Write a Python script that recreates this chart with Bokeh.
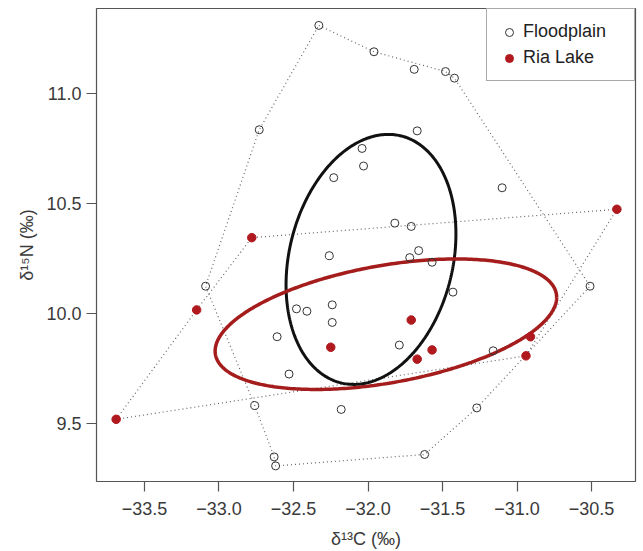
import numpy as np
from bokeh.plotting import figure
from bokeh.models import FixedTicker, CustomJSTickFormatter, Legend, LegendItem
from bokeh.embed import file_html
from bokeh.resources import INLINE

# ---------------- data ----------------
floodplain_d13C = [-32.33, -31.96, -31.69, -31.48, -31.42, -32.73, -31.67, -32.04,
                   -32.03, -32.23, -31.10, -31.82, -31.71, -32.26, -31.66, -31.72,
                   -31.57, -33.09, -31.43, -30.51, -32.48, -32.41, -32.24, -32.24,
                   -32.61, -31.79, -31.16, -32.53, -32.76, -32.18, -31.27, -32.63,
                   -32.62, -31.62]
floodplain_d15N = [11.31, 11.19, 11.11, 11.10, 11.07, 10.835, 10.83, 10.75,
                   10.67, 10.617, 10.571, 10.41, 10.395, 10.262, 10.285, 10.253,
                   10.232, 10.123, 10.096, 10.123, 10.02, 10.009, 10.038, 9.958,
                   9.893, 9.855, 9.829, 9.723, 9.58, 9.562, 9.569, 9.346,
                   9.305, 9.357]
# order of the points that form the dotted outline (hull) of each group
floodplain_hull = [0, 1, 3, 4, 19, 30, 33, 32, 31, 28, 17, 5, 0]

ria_d13C = [-32.78, -30.33, -33.15, -33.69, -31.71, -32.25, -31.57, -31.67, -30.91, -30.94]
ria_d15N = [10.344, 10.473, 10.015, 9.517, 9.969, 9.845, 9.833, 9.791, 9.893, 9.806]
ria_hull = [3, 2, 0, 1, 9, 3]

# standard ellipses: centre and covariance terms
groups = ["Floodplain", "Ria Lake"]
ell_cx = [-31.98, -31.88]
ell_cy = [10.245, 9.95]
ell_vx = [0.3249, 1.313]
ell_vy = [0.3238, 0.0882]
ell_cxy = [0.066, 0.14]

x_ticks = [-33.5, -33.0, -32.5, -32.0, -31.5, -31.0, -30.5]
y_ticks = [9.5, 10.0, 10.5, 11.0]

# ---------------- styling ----------------
FONT = "Liberation Sans"
AXC = "#555555"
TXT = "#3a3a3a"
RED = "#B0191E"
RED_ELL = "#A51C1C"

p = figure(width=643, height=551,
           x_range=(-33.822, -30.205), y_range=(9.234, 11.387),
           output_backend="svg", toolbar_location=None,
           min_border_left=96, min_border_right=8, min_border_top=8,
           min_border_bottom=60)
p.background_fill_color = "white"
p.border_fill_color = "white"
p.outline_line_color = AXC
p.outline_line_width = 1.2
p.grid.visible = False

fmt = CustomJSTickFormatter(code="return tick.toFixed(1).replace('-', '\\u2212');")
for ax, ticks in ((p.xaxis, x_ticks), (p.yaxis, y_ticks)):
    ax.ticker = FixedTicker(ticks=ticks)
    ax.formatter = fmt
    ax.axis_line_color = None
    ax.major_tick_out = 10
    ax.major_tick_in = 0
    ax.major_tick_line_color = AXC
    ax.major_tick_line_width = 1.2
    ax.minor_tick_line_color = None
    ax.major_label_text_font = FONT
    ax.major_label_text_font_size = "18px"
    ax.major_label_text_color = TXT
    ax.axis_label_text_font = FONT
    ax.axis_label_text_font_size = "18px"
    ax.axis_label_text_font_style = "normal"
    ax.axis_label_text_color = TXT

p.xaxis.axis_label = "δ¹³C (‰)"
p.yaxis.axis_label = "δ¹⁵N (‰)"
p.xaxis.major_label_standoff = 10
p.yaxis.major_label_standoff = 5
p.xaxis.axis_label_standoff = 11
p.yaxis.axis_label_standoff = 6

# hull outlines (dotted)
p.line([floodplain_d13C[i] for i in floodplain_hull],
       [floodplain_d15N[i] for i in floodplain_hull],
       line_color="#666666", line_width=1.2, line_dash="1 3")
p.line([ria_d13C[i] for i in ria_hull],
       [ria_d15N[i] for i in ria_hull],
       line_color="#666666", line_width=1.2, line_dash="1 3")

# ellipses
t = np.linspace(0, 2 * np.pi, 361)
ell_colors = ["#111111", RED_ELL]
ell_widths = [3, 3.5]
for k in range(len(groups)):
    sx = np.sqrt(ell_vx[k])
    ex = ell_cx[k] + sx * np.cos(t)
    ey = ell_cy[k] + (ell_cxy[k] / sx) * np.cos(t) + np.sqrt(ell_vy[k] - ell_cxy[k] ** 2 / ell_vx[k]) * np.sin(t)
    p.line(ex, ey, line_color=ell_colors[k], line_width=ell_widths[k])

# points
r_fp = p.scatter(floodplain_d13C, floodplain_d15N, marker="circle", size=8,
                 fill_color=None, line_color="#333333", line_width=1)
r_ria = p.scatter(ria_d13C, ria_d15N, marker="circle", size=8.5,
                  fill_color=RED, line_color=RED, line_width=1)

legend = Legend(items=[LegendItem(label=groups[0], renderers=[r_fp]),
                       LegendItem(label=groups[1], renderers=[r_ria])],
                location="top_right")
legend.margin = 0
legend.padding = 12
legend.spacing = 5
legend.glyph_width = 20
legend.glyph_height = 20
legend.label_standoff = 4
legend.label_width = 99
legend.label_text_font = FONT
legend.label_text_font_size = "18px"
legend.label_text_color = "#222222"
legend.border_line_color = AXC
legend.border_line_width = 1.2
legend.background_fill_alpha = 1
p.add_layout(legend)

open("out.html", "w").write(file_html(p, INLINE))
